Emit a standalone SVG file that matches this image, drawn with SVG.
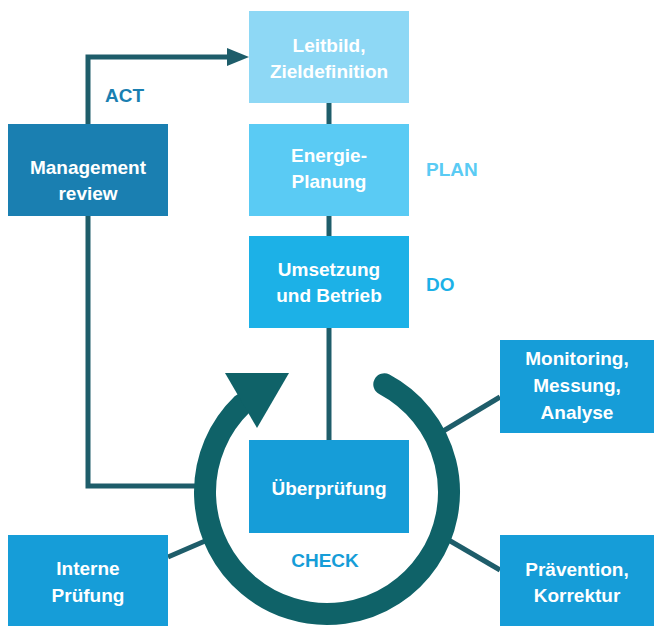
<svg xmlns="http://www.w3.org/2000/svg" width="654" height="626" viewBox="0 0 654 626">
<defs>
<style>
.t{font-family:"Liberation Sans",Arial,sans-serif;font-weight:bold;font-size:19px;fill:#fff;text-anchor:middle}
.l{font-family:"Liberation Sans",Arial,sans-serif;font-weight:bold;font-size:19px}
.c{stroke:#1e5d6a;stroke-width:5;fill:none}
</style>
<marker id="ah" markerWidth="10" markerHeight="10" refX="0" refY="0" viewBox="0 -5 10 10" orient="auto" markerUnits="userSpaceOnUse">
<path d="M0,-5 L10,0 L0,5 z" fill="#1e5d6a"/>
</marker>
</defs>
<rect width="654" height="626" fill="#fff"/>
<g id="connectors">
<line class="c" x1="329" y1="103" x2="329" y2="124"/>
<line class="c" x1="329" y1="216" x2="329" y2="236"/>
<line class="c" x1="329" y1="328" x2="329" y2="440"/>
<polyline class="c" points="88,124 88,57 229,57"/>
<path d="M227,48 L249,57 L227,66 z" fill="#1e5d6a"/>
<polyline class="c" points="88,216 88,486 210,486"/>
<line class="c" x1="440" y1="433" x2="500" y2="397"/>
<line class="c" x1="440" y1="535" x2="500" y2="570"/>
<line class="c" x1="168" y1="557" x2="212" y2="538"/>
</g>
<g id="cycle">
<path d="M384.3,384.3 A122,122 0 1 1 242.3,404.2" fill="none" stroke="#0f6268" stroke-width="22" stroke-linecap="round"/>
<path d="M225,373 L289,373 L257,428 z" fill="#0f6268"/>
</g>
<g id="leitbild">
<rect x="249" y="11" width="160" height="92" fill="#8ed8f5"/>
<text class="t" x="329" y="52">Leitbild,</text>
<text class="t" x="329" y="78">Zieldefinition</text>
</g>
<g id="energie">
<rect x="249" y="124" width="160" height="92" fill="#5acbf4"/>
<text class="t" x="329" y="162">Energie-</text>
<text class="t" x="329" y="188">Planung</text>
</g>
<g id="umsetzung">
<rect x="249" y="236" width="160" height="92" fill="#1cb1e7"/>
<text class="t" x="329" y="276">Umsetzung</text>
<text class="t" x="329" y="302">und Betrieb</text>
</g>
<g id="ueberpruefung">
<rect x="249" y="440" width="160" height="93" fill="#169dd8"/>
<text class="t" x="329" y="495">Überprüfung</text>
</g>
<g id="management">
<rect x="8" y="124" width="160" height="92" fill="#1a7fb1"/>
<text class="t" x="88" y="174">Management</text>
<text class="t" x="88" y="200">review</text>
</g>
<g id="monitoring">
<rect x="500" y="340" width="154" height="93" fill="#169dd8"/>
<text class="t" x="577" y="365">Monitoring,</text>
<text class="t" x="577" y="392">Messung,</text>
<text class="t" x="577" y="419">Analyse</text>
</g>
<g id="praevention">
<rect x="500" y="535" width="154" height="91" fill="#169dd8"/>
<text class="t" x="577" y="576">Prävention,</text>
<text class="t" x="577" y="602">Korrektur</text>
</g>
<g id="interne">
<rect x="8" y="535" width="160" height="91" fill="#169dd8"/>
<text class="t" x="88" y="575">Interne</text>
<text class="t" x="88" y="602">Prüfung</text>
</g>
<g id="labels">
<text class="l" x="105" y="102" fill="#1a7fb1">ACT</text>
<text class="l" x="426" y="176" fill="#5acbf4">PLAN</text>
<text class="l" x="426" y="291" fill="#1cb1e7">DO</text>
<text class="l" x="325" y="567" fill="#169dd8" text-anchor="middle">CHECK</text>
</g>
</svg>
